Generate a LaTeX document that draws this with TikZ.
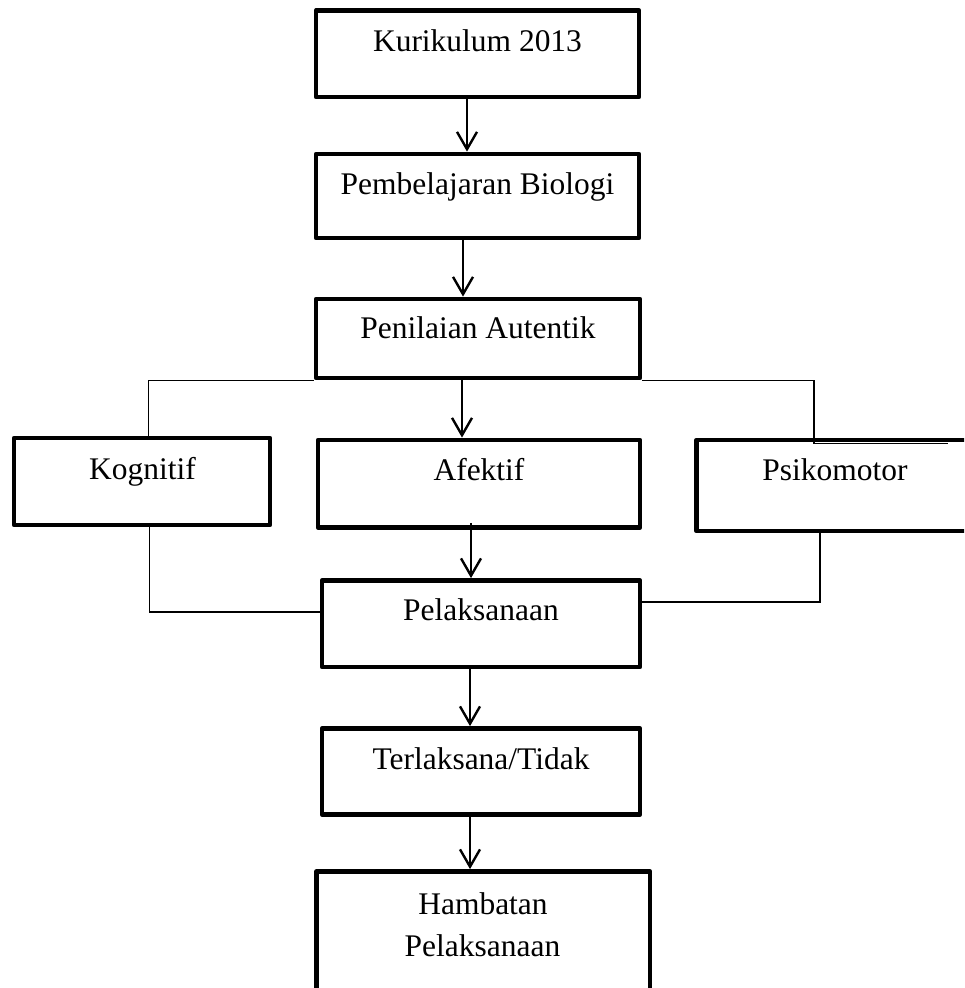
\documentclass[tikz,border=0pt]{standalone}
\usepackage{fontspec}
\setmainfont{Liberation Serif}
\usetikzlibrary{fit,calc,arrows.meta}
\begin{document}
\begin{tikzpicture}[x=0.75pt,y=-0.75pt,
  box/.style={draw,line width=3.6pt,line join=round,inner sep=0pt,fit={#1}},
  txt/.style={anchor=base,inner sep=0pt,font=\fontsize{23.6}{29}\selectfont},
  arr/.style={line width=1.8pt,-{Straight Barb[length=13pt,width=15pt,line width=1.8pt]}},
  conn/.style={line width=1.3pt}]
\clip (0,0) rectangle (964,988);
% boxes
\node[box={(316,10.5) (639,97)}] (k1) {};
\node[box={(316,154) (639,238)}] (k2) {};
\node[box={(316,299) (640,378)}] (k3) {};
\node[box={(14,438) (270,525)}] (k4) {};
\node[box={(318,440) (640,527.5)}] (k5) {};
\node[box={(696.5,440) (1010,531)}] (k6) {};
\node[box={(322,580.5) (640,667)}] (k7) {};
\node[box={(322,728.5) (640,814.5)}] (k8) {};
\node[box={(316.5,871.5) (650,1020)}] (k9) {};
% texts
\node[txt] (t1) at (477.5,52) {Kurikulum 2013};
\node[txt] (t2) at (477.5,195) {Pembelajaran Biologi};
\node[txt] (t3) at (478,338) {Penilaian Autentik};
\node[txt] (t4) at (142.5,479) {Kognitif};
\node[txt] (t5) at (479,480.5) {Afektif};
\node[txt] (t6) at (835,480.5) {Psikomotor};
\node[txt] (t7) at (481,620) {Pelaksanaan};
\node[txt] (t8) at (481,769) {Terlaksana/Tidak};
\node[txt] (t9a) at (483,914) {Hambatan};
\node[txt] (t9b) at (482.5,956) {Pelaksanaan};
% arrows
\draw[arr] (k1.south -| 467,0) -- (k2.north -| 467,0);
\draw[arr] (k2.south -| 463,0) -- (k3.north -| 463,0);
\draw[arr] (k3.south -| 462,0) -- (k5.north -| 462,0);
\draw[arr] ($(k5.south -| 471,0)+(0,-7)$) -- (k7.north -| 471,0);
\draw[arr] (k7.south -| 470,0) -- (k8.north -| 470,0);
\draw[arr] (k8.south -| 470,0) -- (k9.north -| 470,0);
% connectors
\coordinate (r1) at (814,443.5);
\coordinate (r2) at (948,443.5);
\draw[conn] (k3.south west) -| (k4.north -| 148.5,0);
\draw[conn] (k3.south east) -| (r1) -- (r2);
\draw[conn] (k4.south -| 149.5,0) |- (k7.west |- 0,612);
\draw[conn] (k6.south -| 820,0) |- (k7.east |- 0,602);
\end{tikzpicture}
\end{document}
